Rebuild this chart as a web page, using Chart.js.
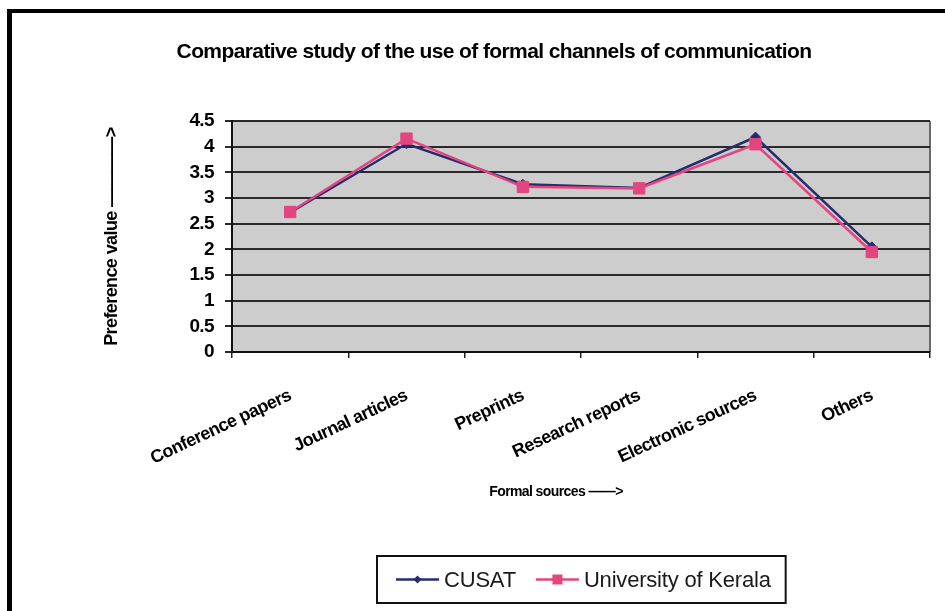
<!DOCTYPE html>
<html>
<head>
<meta charset="utf-8">
<script src="https://cdn.jsdelivr.net/npm/chart.js@4/dist/chart.umd.min.js"></script>
<style>
  html, body { margin: 0; padding: 0; background: #fff; }
  #wrap { width: 945px; height: 611px; }
</style>
</head>
<body>
<div id="wrap"><canvas id="c" width="945" height="611"></canvas></div>
<script>
// Formal channels of communication and the mean preference value per institution
const categories = ['Conference papers', 'Journal articles', 'Preprints', 'Research reports', 'Electronic sources', 'Others'];
const seriesNames = ['CUSAT', 'University of Kerala'];
const cusatValues = [2.72, 4.06, 3.27, 3.20, 4.19, 2.05];
const keralaValues = [2.73, 4.16, 3.22, 3.19, 4.05, 1.95];
const yTickValues = [0, 0.5, 1, 1.5, 2, 2.5, 3, 3.5, 4, 4.5];
const yTickLabels = ['0', '0.5', '1', '1.5', '2', '2.5', '3', '3.5', '4', '4.5'];

const titleText = 'Comparative study of the use of formal channels of communication';
const yTitleText = 'Preference value \u2014\u2014\u2014\u2014>';
const xTitleText = 'Formal sources \u2014\u2014>';

const FONT = "'Liberation Sans', Arial, Helvetica, sans-serif";
const NAVY = '#262d6c';
const PINK = '#e2457f';

// Page frame, plot background and tight lettering
const framePlugin = {
  id: 'frame',
  beforeDraw(chart) {
    const ctx = chart.ctx;
    const a = chart.chartArea;
    ctx.save();
    ctx.fillStyle = '#ffffff';
    ctx.fillRect(0, 0, chart.width, chart.height);
    ctx.fillStyle = '#cdcdcd';
    ctx.fillRect(a.left, a.top, a.right - a.left, a.bottom - a.top);
    ctx.strokeStyle = '#6a6a6a';
    ctx.lineWidth = 2;
    ctx.beginPath();
    ctx.moveTo(a.right, a.top);
    ctx.lineTo(a.right, a.bottom);
    ctx.stroke();
    ctx.fillStyle = '#000';
    ctx.fillRect(7, 9, chart.width - 7, 4);
    ctx.fillRect(7, 9, 5, chart.height - 9);
    ctx.restore();
    ctx.letterSpacing = '-0.6px';
  }
};

// Category-axis caption, set a little left of the plot centre
const xCaptionPlugin = {
  id: 'xCaption',
  afterDraw(chart) {
    const ctx = chart.ctx;
    const a = chart.chartArea;
    ctx.save();
    ctx.letterSpacing = '-0.6px';
    ctx.font = 'bold 14px ' + FONT;
    ctx.fillStyle = '#000';
    ctx.textAlign = 'center';
    ctx.textBaseline = 'middle';
    ctx.fillText(xTitleText, (a.left + a.right) / 2 - 25, a.bottom + 140);
    ctx.restore();
  }
};

// Boxed legend below the axis caption, centred under the plot
const boxLegendPlugin = {
  id: 'boxLegend',
  afterDraw(chart) {
    const ctx = chart.ctx;
    const a = chart.chartArea;
    ctx.save();
    ctx.letterSpacing = '-0.2px';
    ctx.font = '22px ' + FONT;
    const symW = 43, symGap = 5, itemGap = 20, padL = 19, padR = 15;
    const items = chart.data.datasets.map(ds => ({ ds, w: ctx.measureText(ds.label).width }));
    let total = padL + padR - itemGap;
    items.forEach(it => { total += symW + symGap + it.w + itemGap; });
    const top = chart.height - 55, h = 47;
    const left = Math.round((a.left + a.right) / 2 - total / 2);
    ctx.fillStyle = '#fff';
    ctx.fillRect(left, top, total, h);
    ctx.strokeStyle = '#111';
    ctx.lineWidth = 2;
    ctx.strokeRect(left, top, total, h);
    const cy = top + h / 2;
    let x = left + padL;
    items.forEach(it => {
      const ds = it.ds;
      ctx.strokeStyle = ds.borderColor;
      ctx.lineWidth = 2.5;
      ctx.beginPath();
      ctx.moveTo(x, cy);
      ctx.lineTo(x + symW, cy);
      ctx.stroke();
      const mx = x + symW / 2;
      ctx.fillStyle = ds.pointBackgroundColor;
      ctx.beginPath();
      if (ds.pointStyle === 'rectRot') {
        const r = 4;
        ctx.moveTo(mx, cy - r); ctx.lineTo(mx + r, cy); ctx.lineTo(mx, cy + r); ctx.lineTo(mx - r, cy);
        ctx.closePath();
      } else {
        ctx.rect(mx - 5, cy - 5, 10, 10);
      }
      ctx.fill();
      ctx.fillStyle = '#1a1a1a';
      ctx.textBaseline = 'middle';
      ctx.textAlign = 'left';
      ctx.fillText(ds.label, x + symW + symGap, cy + 1);
      x += symW + symGap + it.w + itemGap;
    });
    ctx.restore();
  }
};

new Chart(document.getElementById('c'), {
  type: 'line',
  data: {
    labels: categories,
    datasets: [
      {
        label: seriesNames[0],
        data: cusatValues,
        borderColor: NAVY,
        backgroundColor: NAVY,
        pointBackgroundColor: NAVY,
        pointBorderColor: NAVY,
        pointStyle: 'rectRot',
        pointRadius: 5,
        pointBorderWidth: 1,
        borderWidth: 2.5,
        tension: 0,
        order: 2
      },
      {
        label: seriesNames[1],
        data: keralaValues,
        borderColor: PINK,
        backgroundColor: PINK,
        pointBackgroundColor: PINK,
        pointBorderColor: PINK,
        pointStyle: 'rect',
        pointRadius: 8,
        pointBorderWidth: 1,
        borderWidth: 2.5,
        tension: 0,
        order: 1
      }
    ]
  },
  options: {
    responsive: false,
    animation: false,
    devicePixelRatio: 1,
    layout: { padding: { left: 58, right: 15, top: 0, bottom: 0 } },
    plugins: {
      legend: { display: false },
      tooltip: { enabled: false },
      title: {
        display: true,
        text: titleText,
        color: '#000',
        font: { family: FONT, size: 21, weight: 'bold', lineHeight: 1.2 },
        padding: { top: 40, bottom: 56 }
      }
    },
    scales: {
      x: {
        type: 'category',
        offset: true,
        afterFit(scale) { scale.height = 259; },
        grid: { drawOnChartArea: false, offset: true, tickLength: 6, color: '#222', lineWidth: 1.5 },
        border: { display: true, color: '#111', width: 2 },
        ticks: {
          autoSkip: false, maxRotation: 25, minRotation: 25,
          color: '#000', padding: 27,
          font: { family: FONT, size: 18, weight: 'bold' }
        },
        title: { display: false }
      },
      y: {
        min: 0, max: 4.5,
        afterFit(scale) { scale.width = 174; },
        afterBuildTicks(scale) { scale.ticks = yTickValues.map(v => ({ value: v })); },
        grid: { color: '#2a2a2a', lineWidth: 2, tickLength: 7 },
        border: { display: true, color: '#111', width: 2 },
        ticks: {
          autoSkip: false,
          color: '#000', padding: 11,
          font: { family: FONT, size: 19, weight: 'bold' },
          callback: (value, index) => yTickLabels[index]
        },
        title: {
          display: true, text: yTitleText, color: '#000',
          font: { family: FONT, size: 18, weight: 'bold', lineHeight: 1.2 },
          padding: { top: 43, bottom: 0 }
        }
      }
    }
  },
  plugins: [framePlugin, xCaptionPlugin, boxLegendPlugin]
});
</script>
</body>
</html>
